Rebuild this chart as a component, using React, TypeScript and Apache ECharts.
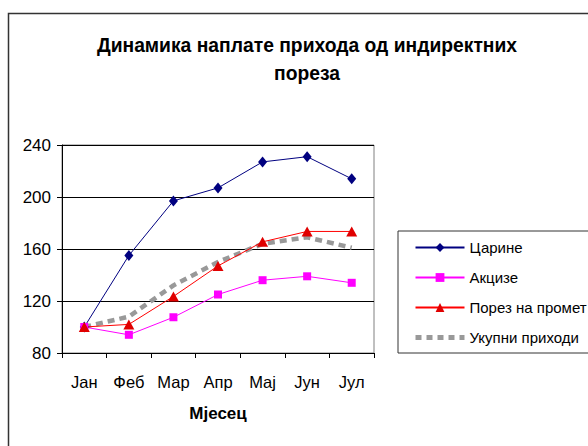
import React, { useEffect, useRef } from "react";
import * as echarts from "echarts";

const months = ["Јан", "Феб", "Мар", "Апр", "Мај", "Јун", "Јул"];
const carine = [100, 155, 197, 207, 227, 231, 214];
const akcize = [100, 94, 107.5, 125, 136, 139, 134];
const porez = [100, 102, 123.5, 147, 165.5, 173.5, 173.5];
const ukupni = [100, 108, 132, 150, 164, 169, 161];
const yTicks = { min: 80, max: 240, interval: 40 };

const FONT = "'Liberation Sans', Arial, sans-serif";

export default function App() {
  const ref = useRef<HTMLDivElement>(null);
  useEffect(() => {
    if (!ref.current) return;
    const chart = echarts.init(ref.current, undefined, { renderer: "svg" });
    chart.setOption({
      animation: false,
      backgroundColor: "#ffffff",
      textStyle: { fontFamily: FONT },
      title: {
        text: "Динамика наплате прихода од индиректних\nпореза",
        left: 302,
        top: 26,
        textAlign: "center",
        textStyle: {
          fontFamily: FONT,
          fontSize: 19.3,
          fontWeight: "bold",
          color: "#000",
          lineHeight: 28,
        },
      },
      graphic: [
        {
          type: "rect",
          shape: { x: 8.5, y: 13.5, width: 600, height: 500 },
          style: { fill: "none", stroke: "#333", lineWidth: 1.5 },
          silent: true,
        },
      ],
      legend: {
        orient: "vertical",
        left: 398,
        top: 231,
        padding: [9, 8, 8, 15],
        itemGap: 15,
        itemWidth: 49,
        itemHeight: 11,
        borderColor: "#333",
        borderWidth: 1,
        backgroundColor: "#fff",
        textStyle: { fontFamily: FONT, fontSize: 15, color: "#000" },
        data: [
          "Царине",
          "Акцизе",
          "Порез на промет",
          {
            name: "Укупни приходи",
            itemStyle: { opacity: 0 },
            lineStyle: { width: 5, type: [6, 5], color: "#999999" },
          },
        ],
      },
      grid: {
        left: 62,
        top: 145,
        width: 312,
        height: 208,
        show: true,
        borderColor: "#808080",
        borderWidth: 1,
      },
      xAxis: {
        type: "category",
        data: months,
        boundaryGap: true,
        name: "Мјесец",
        nameLocation: "middle",
        nameGap: 52,
        nameTextStyle: { fontFamily: FONT, fontSize: 17, fontWeight: "bold", color: "#000" },
        axisLine: { lineStyle: { color: "#000", width: 1 } },
        axisTick: { show: true, length: 5, inside: false, lineStyle: { color: "#000" } },
        axisLabel: { fontFamily: FONT, fontSize: 16.5, color: "#000", margin: 20 },
      },
      yAxis: {
        type: "value",
        min: yTicks.min,
        max: yTicks.max,
        interval: yTicks.interval,
        axisLine: { show: true, lineStyle: { color: "#000", width: 1 } },
        axisTick: { show: true, length: 5, lineStyle: { color: "#000" } },
        axisLabel: { fontFamily: FONT, fontSize: 17, color: "#000", margin: 11 },
        splitLine: { show: true, lineStyle: { color: "#000", width: 1 } },
      },
      series: [
        {
          name: "Укупни приходи",
          type: "line",
          data: ukupni,
          symbol: "none",
          z: 1,
          lineStyle: { color: "#999999", width: 4.5, type: [7, 5] },
          itemStyle: { color: "#999999" },
        },
        {
          name: "Царине",
          type: "line",
          data: carine,
          symbol: "diamond",
          symbolSize: [9, 11],
          z: 3,
          lineStyle: { color: "#000080", width: 1 },
          itemStyle: { color: "#000080" },
        },
        {
          name: "Акцизе",
          type: "line",
          data: akcize,
          symbol: "rect",
          symbolSize: 8,
          z: 3,
          lineStyle: { color: "#ff00ff", width: 1 },
          itemStyle: { color: "#ff00ff" },
        },
        {
          name: "Порез на промет",
          type: "line",
          data: porez,
          symbol: "triangle",
          symbolSize: [11, 10],
          z: 3,
          lineStyle: { color: "#ff0000", width: 1 },
          itemStyle: { color: "#e00000" },
        },
      ],
    });
    return () => chart.dispose();
  }, []);
  return (
    <div
      ref={ref}
      style={{ position: "fixed", left: 0, top: 0, width: 588, height: 446 }}
    />
  );
}
